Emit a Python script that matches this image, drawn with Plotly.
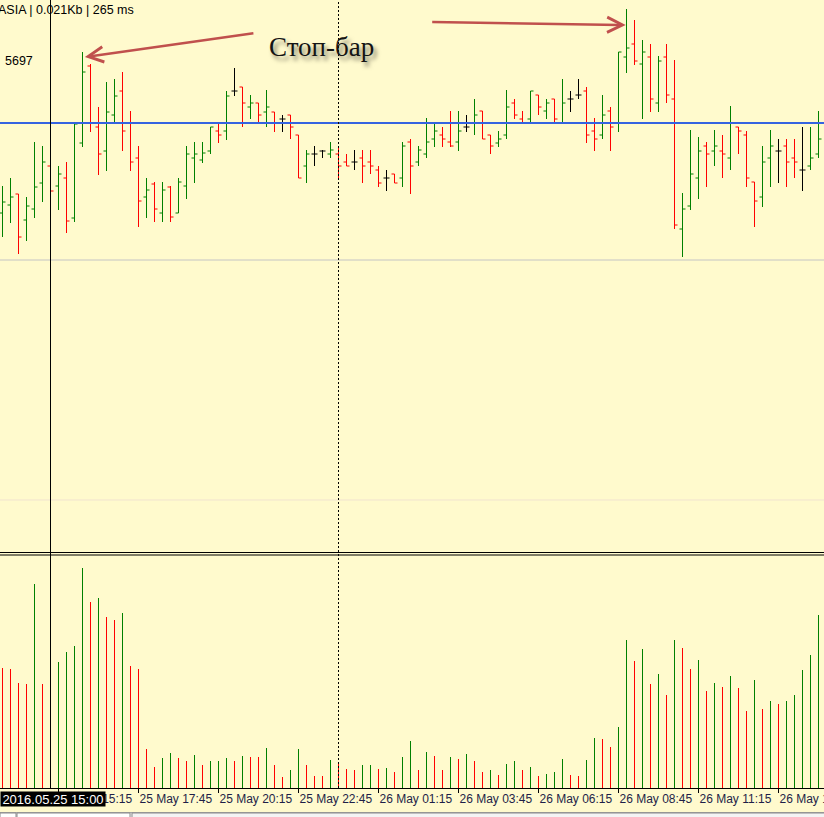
import numpy as np
import plotly.graph_objects as go

# ---------------- data (prices in points, 1 pt = 0.00001) ----------------
open_pts = [11787, 11795, 11806, 11780, 11791, 11817, 11834, 11814, 11822, 11782,
            11857, 11934, 11873, 11849, 11885, 11909, 11877, 11842, 11803, 11816,
            11787, 11813, 11787, 11814, 11842, 11840, 11849, 11869, 11869, 11909,
            11913, 11893, 11897, 11888, 11888, 11881, 11885, 11865, 11834, 11846,
            11849, 11846, 11846, 11838, 11838, 11842, 11838, 11830, 11822, 11826,
            11822, 11858, 11838, 11846, 11861, 11865, 11858, 11858, 11873, 11877,
            11889, 11865, 11857, 11865, 11897, 11881, 11881, 11905, 11889, 11901,
            11877, 11901, 11905, 11909, 11869, 11865, 11889, 11877, 11943, 11956,
            11936, 11943, 11897, 11943, 11901, 11771, 11794, 11822, 11854, 11849,
            11849, 11842, 11873, 11865, 11818, 11803, 11842, 11849, 11854, 11842,
            11830, 11834, 11846]
high_pts = [11814, 11822, 11806, 11803, 11858, 11854, 11837, 11834, 11838, 11877,
            11948, 11936, 11893, 11918, 11921, 11928, 11889, 11854, 11822, 11818,
            11818, 11814, 11822, 11854, 11858, 11858, 11873, 11877, 11909, 11932,
            11913, 11905, 11897, 11910, 11888, 11885, 11885, 11865, 11850, 11854,
            11850, 11858, 11854, 11846, 11850, 11850, 11850, 11834, 11830, 11826,
            11858, 11861, 11854, 11882, 11877, 11873, 11889, 11889, 11885, 11901,
            11889, 11865, 11869, 11910, 11901, 11889, 11909, 11905, 11901, 11901,
            11921, 11909, 11921, 11913, 11882, 11905, 11893, 11948, 11991, 11980,
            11960, 11956, 11944, 11956, 11940, 11807, 11870, 11863, 11858, 11870,
            11865, 11894, 11873, 11869, 11818, 11854, 11870, 11861, 11861, 11861,
            11873, 11873, 11889]
low_pts = [11763, 11777, 11746, 11759, 11782, 11798, 11807, 11790, 11767, 11778,
           11853, 11868, 11825, 11829, 11877, 11849, 11829, 11773, 11782, 11778,
           11778, 11778, 11787, 11801, 11817, 11837, 11846, 11857, 11860, 11904,
           11873, 11881, 11877, 11873, 11868, 11868, 11861, 11822, 11817, 11834,
           11842, 11842, 11822, 11834, 11830, 11817, 11826, 11813, 11809, 11817,
           11813, 11806, 11834, 11842, 11853, 11853, 11853, 11849, 11868, 11865,
           11861, 11846, 11853, 11861, 11881, 11877, 11877, 11885, 11881, 11877,
           11877, 11888, 11901, 11857, 11849, 11861, 11849, 11868, 11927, 11935,
           11881, 11888, 11888, 11897, 11771, 11743, 11790, 11801, 11813, 11834,
           11822, 11830, 11846, 11813, 11773, 11793, 11813, 11817, 11813, 11822,
           11809, 11830, 11842]
close_pts = [11798, 11803, 11763, 11794, 11813, 11838, 11809, 11826, 11779, 11876,
             11928, 11877, 11846, 11888, 11904, 11869, 11838, 11799, 11810, 11791,
             11810, 11783, 11818, 11846, 11846, 11847, 11873, 11865, 11904, 11909,
             11897, 11897, 11885, 11893, 11877, 11881, 11873, 11822, 11846, 11846,
             11849, 11850, 11834, 11834, 11838, 11834, 11834, 11817, 11822, 11817,
             11854, 11834, 11850, 11858, 11869, 11861, 11854, 11869, 11873, 11885,
             11861, 11854, 11861, 11893, 11885, 11877, 11909, 11893, 11897, 11881,
             11897, 11901, 11905, 11865, 11861, 11885, 11873, 11948, 11952, 11939,
             11948, 11901, 11939, 11905, 11775, 11791, 11826, 11849, 11846, 11854,
             11846, 11877, 11869, 11822, 11799, 11838, 11854, 11849, 11838, 11838,
             11830, 11842, 11861]
volume = [1203, 1190, 1053, 1040, 2040, 1040, 1100, 1263, 1360, 1423,
          2200, 1857, 1903, 1710, 1680, 1750, 1220, 1187, 387, 213,
          303, 347, 297, 273, 333, 230, 267, 273, 297, 273,
          320, 313, 310, 400, 227, 113, 183, 390, 230, 123,
          120, 280, 263, 193, 180, 230, 233, 193, 197, 163,
          310, 470, 183, 360, 320, 183, 310, 290, 343, 273,
          160, 183, 133, 240, 267, 183, 213, 120, 143, 160,
          293, 133, 120, 280, 503, 490, 413, 610, 1480, 1267,
          1390, 1040, 1143, 933, 1480, 1400, 1190, 1280, 973, 1053,
          1013, 1120, 1000, 773, 1080, 790, 867, 840, 867, 933,
          1183, 1330, 1730]

tick_bars = [7, 17, 27, 37, 47, 57, 67, 77, 87, 97]
tick_labels = ["25 May 15:15", "25 May 17:45", "25 May 20:15", "25 May 22:45",
               "26 May 01:15", "26 May 03:45", "26 May 06:15", "26 May 08:45",
               "26 May 11:15", "26 May 13:45"]
cursor_bar = 6
cursor_label = "2016.05.25 15:00"
day_separator_bar = 42
level_blue = 11877
level_gray = 11740
level_faint = 11500
stop_bar = 10
peak_bar = 78

# ---------------- derived ----------------
o = np.array(open_pts) / 1e5
h = np.array(high_pts) / 1e5
l = np.array(low_pts) / 1e5
c = np.array(close_pts) / 1e5
vol = np.array(volume)
idx = np.arange(len(o))

GREEN = "#008000"
RED = "#ff0000"
BG = "#fffacd"

W, H = 824, 817
B = 29
PH = H - B  # plot area height (788)


def py(px):
    return (PH - px) / PH


def pxx(px):
    return px / W


fig = go.Figure()

groups = [(c > o, GREEN), (c < o, RED), (c == o, "#000000")]
for mask, col in groups:
    fig.add_trace(go.Ohlc(
        x=idx[mask], open=o[mask], high=h[mask], low=l[mask], close=c[mask],
        increasing=dict(line=dict(color=col, width=1)),
        decreasing=dict(line=dict(color=col, width=1)),
        tickwidth=0.375, xaxis="x", yaxis="y", showlegend=False, hoverinfo="skip"))

vcol = [RED] + [GREEN if vol[i] > vol[i - 1] else RED for i in range(1, len(vol))]
fig.add_trace(go.Bar(x=idx, y=vol, width=0.125, marker=dict(color=vcol, line=dict(width=0)),
                     xaxis="x", yaxis="y2", showlegend=False, hoverinfo="skip"))

x_range = [-0.3125, len(o) - 0.3125]
price_lo = (12000 - 552) / 1e5
price_hi = 12000 / 1e5

fig.update_layout(
    width=W, height=H,
    margin=dict(l=0, r=0, t=0, b=B, pad=0, autoexpand=False),
    paper_bgcolor=BG, plot_bgcolor=BG,
    showlegend=False, bargap=0,
    xaxis=dict(domain=[0, 1], anchor="y2", range=x_range, rangeslider=dict(visible=False),
               tickmode="array", tickvals=tick_bars, ticktext=tick_labels,
               ticks="outside", ticklen=4, tickwidth=1, tickcolor="#000000",
               ticklabelposition="outside right", ticklabeloverflow="allow",
               tickangle=0, automargin=False,
               tickfont=dict(family="Liberation Sans", size=12, color="#1e1e48"),
               showline=True, linecolor="#000000", linewidth=1,
               showgrid=False, zeroline=False, fixedrange=True),
    yaxis=dict(domain=[py(552), 1], range=[price_lo, price_hi], visible=False, fixedrange=True),
    yaxis2=dict(domain=[0, py(556)], range=[0, 2320], visible=False, fixedrange=True),
)

shapes = [
    dict(type="line", xref="paper", yref="y", x0=0, x1=1, y0=level_faint / 1e5, y1=level_faint / 1e5,
         line=dict(color="#f1e3cf", width=1), layer="below"),
    dict(type="line", xref="paper", yref="y", x0=0, x1=1, y0=level_gray / 1e5, y1=level_gray / 1e5,
         line=dict(color="#c4c4c4", width=1), layer="below"),
    dict(type="line", xref="paper", yref="y", x0=0, x1=1, y0=level_blue / 1e5, y1=level_blue / 1e5,
         line=dict(color="#3563e0", width=2), layer="above"),
    dict(type="line", xref="paper", yref="paper", x0=0, x1=1, y0=py(552.5), y1=py(552.5),
         line=dict(color="#000000", width=1), layer="above"),
    dict(type="line", xref="paper", yref="paper", x0=0, x1=1, y0=py(555), y1=py(555),
         line=dict(color="#000000", width=1), layer="above"),
    dict(type="line", xref="x", yref="paper", x0=cursor_bar, x1=cursor_bar, y0=0, y1=1,
         line=dict(color="#000000", width=1), layer="above"),
    dict(type="line", xref="x", yref="paper", x0=day_separator_bar, x1=day_separator_bar, y0=0, y1=1,
         line=dict(color="#000000", width=1, dash="2px,2px"), layer="above"),
    # bottom tab strip
    dict(type="rect", xref="paper", yref="paper", x0=0, x1=1, y0=py(812.5), y1=py(818),
         fillcolor="#f0f0f0", line=dict(width=0), layer="above"),
    dict(type="line", xref="paper", yref="paper", x0=0, x1=1, y0=py(812.5), y1=py(812.5),
         line=dict(color="#a0a0a0", width=1), layer="above"),
    dict(type="rect", xref="paper", yref="paper", x0=pxx(0), x1=pxx(16), y0=py(813), y1=py(818),
         fillcolor="#ffffff", line=dict(color="#8a8a8a", width=1), layer="above"),
    dict(type="rect", xref="paper", yref="paper", x0=pxx(17), x1=pxx(130), y0=py(813), y1=py(818),
         fillcolor="#ffffff", line=dict(color="#8a8a8a", width=1), layer="above"),
    dict(type="rect", xref="paper", yref="paper", x0=pxx(132), x1=pxx(830), y0=py(813), y1=py(818),
         fillcolor="#f4f4f4", line=dict(color="#8a8a8a", width=1), layer="above"),
]
fig.update_layout(shapes=shapes)

ARROW = "#c0504d"
annotations = [
    dict(text="ASIA | 0.021Kb | 265 ms", xref="paper", yref="paper", x=pxx(-4), y=py(10),
         xanchor="left", yanchor="middle", showarrow=False,
         font=dict(family="Liberation Sans", size=12.5, color="#000000")),
    dict(text="5697", xref="paper", yref="paper", x=pxx(3), y=py(61),
         xanchor="left", yanchor="middle", showarrow=False,
         font=dict(family="Liberation Sans", size=12.5, color="#000000")),
    dict(text="Стоп-бар", xref="paper", yref="paper", x=pxx(321), y=py(47),
         xanchor="center", yanchor="middle", showarrow=False,
         font=dict(family="Liberation Serif", size=27, color="#141414",
                   shadow="3px 4px 4px rgba(0,0,0,0.5)")),
    # arrow to the stop bar (tail offset given in pixels from the head)
    dict(text="", xref="x", yref="y", x=stop_bar + 0.3, y=h[stop_bar] - 0.00005,
         axref="pixel", ayref="pixel", ax=170, ay=-24,
         showarrow=True, arrowhead=5, arrowsize=1.2, arrowwidth=2.5, arrowcolor=ARROW, standoff=0),
    # arrow to the peak bar
    dict(text="", xref="x", yref="y", x=peak_bar - 0.1, y=h[peak_bar] - 0.00016,
         axref="pixel", ayref="pixel", ax=-195, ay=-3,
         showarrow=True, arrowhead=5, arrowsize=1.2, arrowwidth=2.5, arrowcolor=ARROW, standoff=0),
    dict(text=cursor_label, xref="paper", yref="paper", x=0, y=py(799),
         xanchor="left", yanchor="middle", showarrow=False, width=104, height=14,
         bgcolor="#000000", borderpad=0, align="center",
         font=dict(family="Liberation Sans", size=13, color="#ffffff")),
]
fig.update_layout(annotations=annotations)

fig.write_html("out.html", config={"displayModeBar": False},
               post_script="document.body.style.margin='0px';document.body.style.padding='0px';")
